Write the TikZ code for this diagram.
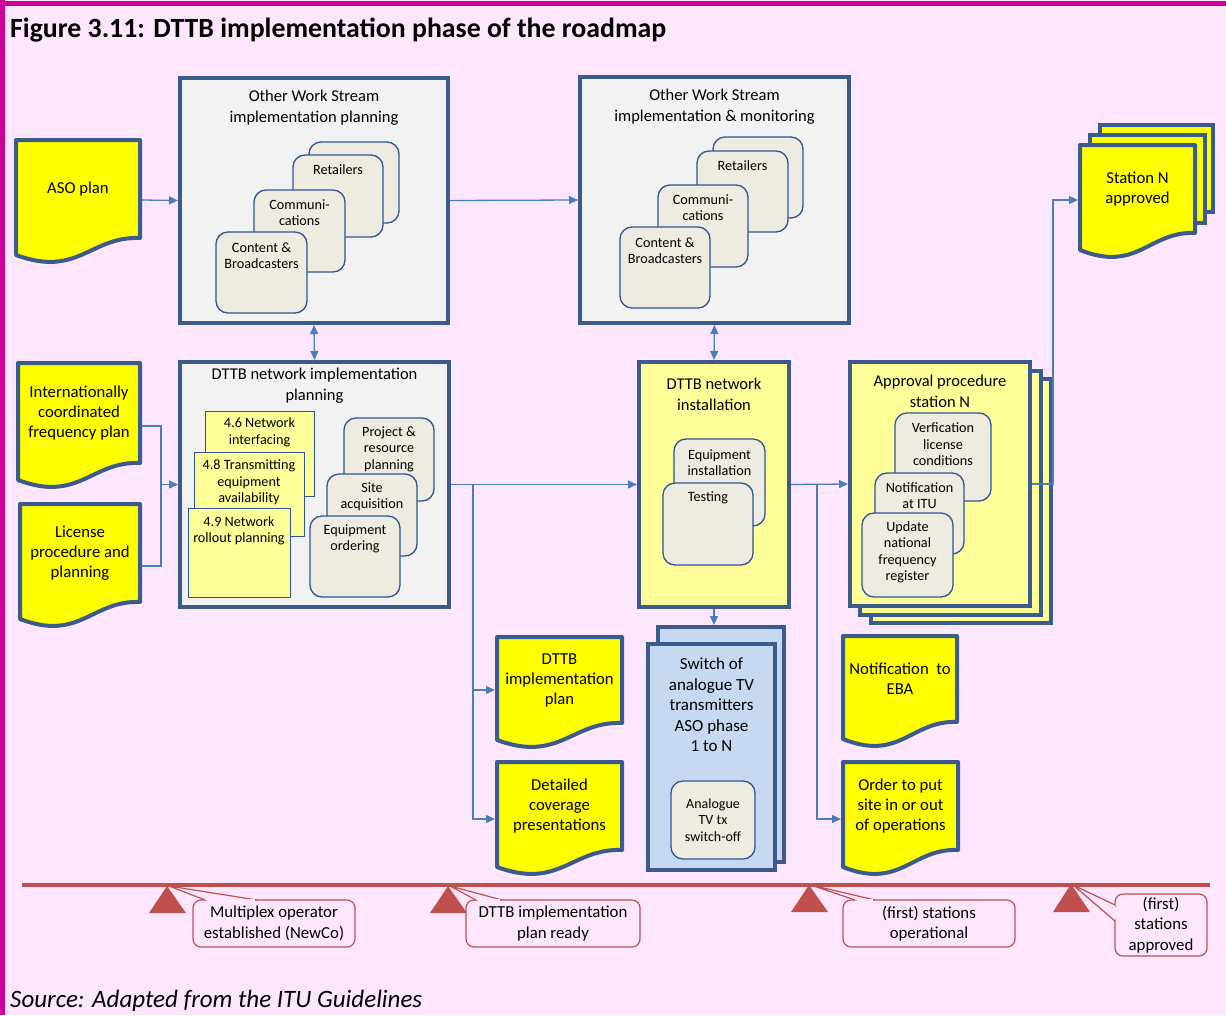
\documentclass[tikz,border=0pt]{standalone}
\usepackage{fontspec}
\setmainfont{Carlito}
\usetikzlibrary{arrows.meta,calc}

\definecolor{bgpink}{HTML}{FFE6FF}
\definecolor{framepink}{HTML}{CC0099}
\definecolor{edgeblue}{HTML}{3B5B8C}
\definecolor{inblue}{HTML}{2F5597}
\definecolor{panelgray}{HTML}{F2F2F2}
\definecolor{tanfill}{HTML}{EEECE1}
\definecolor{docyellow}{HTML}{FFFF00}
\definecolor{paleyellow}{HTML}{FFFF99}
\definecolor{paleblue}{HTML}{C6D9F1}
\definecolor{linkblue}{HTML}{4A7EBB}
\definecolor{milered}{HTML}{C0504D}

\newcommand{\fs}[2]{\fontsize{#1}{#2}\selectfont}

% rectangle-like node given by its corners: style, name, x1, y1, x2, y2
\newcommand{\boxat}[6]{%
  \node[#1, minimum width={(#5-#3)*1pt}, minimum height={(#6-#4)*1pt}]
    (#2) at ({(#3+#5)/2},{(#4+#6)/2}) {};}

% document shape with a wavy lower edge; #5 is the bottom of the right side
\newcommand{\docat}[6]{%
  \draw[docline] (#2,#3) -- (#4,#3) -- (#4,#5)
    .. controls ({#4-0.4*(#4-#2)},{#5-2}) and ({#2+0.5*(#4-#2)},{#5+40})
    .. (#2,{#5+17}) -- cycle;
  \node[doctext, minimum width={(#4-#2)*1pt}, minimum height={(#5-#3)*1pt}]
    (#1) at ({(#2+#4)/2},{(#3+#5)/2}) {#6};}

\tikzset{
  panel/.style={draw=edgeblue, line width=4pt, fill=panelgray},
  installbox/.style={draw=edgeblue, line width=4pt, fill=paleyellow},
  switchbox/.style={draw=edgeblue, line width=4pt, fill=paleblue},
  docline/.style={draw=edgeblue, line width=4pt, fill=docyellow, line join=round},
  docrect/.style={draw=edgeblue, line width=4pt, fill=docyellow},
  doctext/.style={align=center, font={\fs{16.7}{20}}, inner sep=0pt, outer sep=2pt},
  stream/.style={draw=inblue, line width=1.3pt, fill=tanfill, rounded corners=12pt},
  topic/.style={draw=inblue, line width=1pt, fill=paleyellow},
  boxtitle/.style={align=center, font={\fs{16.5}{21}}, inner sep=0pt},
  smalltext/.style={align=center, font={\fs{14.2}{16.5}}, inner sep=0pt},
  link/.style={draw=linkblue, line width=1.3pt},
  arrow/.style={link, -{Triangle[length=9pt,width=8pt]}},
  twoway/.style={link, {Triangle[length=9pt,width=8pt]}-{Triangle[length=9pt,width=8pt]}},
  callout/.style={draw=milered, line width=1.2pt, fill=bgpink, rounded corners=8pt},
  calltext/.style={align=center, font={\fs{16.8}{20.5}}, inner sep=0pt},
  wedge/.style={fill=bgpink, draw=milered, line width=1.2pt, line join=round},
}

\begin{document}
\begin{tikzpicture}[x=1pt,y=-1pt]
\useasboundingbox (0,0) rectangle (1226,1015);
\fill[bgpink] (0,0) rectangle (1226,1015);
\fill[framepink] (0,0.5) rectangle (1226,6);
\fill[framepink] (0,0) rectangle (5,1015);

\node[anchor=base west, font={\fs{27.8}{32}\bfseries}, inner sep=0pt] (title) at (10,37)
  {Figure 3.11: DTTB implementation phase of the roadmap};
\node[anchor=base west, font={\fs{25}{29}\itshape}, inner sep=0pt] (source) at (10,1007)
  {Source: Adapted from the ITU Guidelines};

% ---- other work streams: planning
\boxat{panel}{wsplan}{180}{78}{448}{323}
\node[boxtitle] (wsplan-t) at ($(wsplan.north)+(0,32)$) {Other Work Stream\\implementation planning};
\boxat{stream}{wsp-back}{309}{142}{399}{223}
\boxat{stream}{wsp-ret}{293}{155}{383}{237}
\node[smalltext] (wsp-ret-t) at ($(wsp-ret.north)+(0,15.5)$) {Retailers};
\boxat{stream}{wsp-com}{254}{190}{345}{272}
\node[smalltext] (wsp-com-t) at ($(wsp-com.north)+(0,23.5)$) {Communi-\\cations};
\boxat{stream}{wsp-con}{216}{232}{307}{313}
\node[smalltext] (wsp-con-t) at ($(wsp-con.north)+(0,24.5)$) {Content \&\\Broadcasters};

% ---- other work streams: implementation & monitoring
\boxat{panel}{wsmon}{580}{77}{849}{323}
\node[boxtitle] (wsmon-t) at ($(wsmon.north)+(0,32)$) {Other Work Stream\\implementation \& monitoring};
\boxat{stream}{wsm-back}{713}{137}{803}{218}
\boxat{stream}{wsm-ret}{697}{151}{788}{232}
\node[smalltext] (wsm-ret-t) at ($(wsm-ret.north)+(0,15.5)$) {Retailers};
\boxat{stream}{wsm-com}{658}{185}{748}{267}
\node[smalltext] (wsm-com-t) at ($(wsm-com.north)+(0,23.5)$) {Communi-\\cations};
\boxat{stream}{wsm-con}{620}{227}{710}{308}
\node[smalltext] (wsm-con-t) at ($(wsm-con.north)+(0,24.5)$) {Content \&\\Broadcasters};

% ---- network implementation planning
\boxat{panel}{netplan}{180}{362}{449}{607}
\node[boxtitle] (netplan-t) at ($(netplan.north)+(0,26)$) {DTTB network implementation\\planning};
\boxat{topic}{np-46}{205}{411}{314}{496}
\node[smalltext] (np-46-t) at ($(np-46.north)+(0,22)$) {4.6 Network\\interfacing};
\boxat{topic}{np-48}{194}{452}{304}{536}
\node[smalltext] (np-48-t) at ($(np-48.north)+(0,31)$) {4.8 Transmitting\\equipment\\availability};
\boxat{topic}{np-49}{188}{508}{290}{597}
\node[smalltext] (np-49-t) at ($(np-49.north)+(0,23.5)$) {4.9 Network\\rollout planning};
\boxat{stream}{np-proj}{344}{418}{434}{501}
\node[smalltext] (np-proj-t) at ($(np-proj.north)+(0,31.5)$) {Project \&\\resource\\planning};
\boxat{stream}{np-site}{327}{474}{417}{556}
\node[smalltext] (np-site-t) at ($(np-site.north)+(0,23.5)$) {Site\\acquisition};
\boxat{stream}{np-eq}{310}{516}{400}{597}
\node[smalltext] (np-eq-t) at ($(np-eq.north)+(0,23.5)$) {Equipment\\ordering};

% ---- network installation
\boxat{installbox}{install}{639}{362}{789}{607}
\node[boxtitle] (install-t) at ($(install.north)+(0,34)$) {DTTB network\\installation};
\boxat{stream}{in-eq}{674}{439}{765}{526}
\node[smalltext] (in-eq-t) at ($(in-eq.north)+(0,24.5)$) {Equipment\\installation};
\boxat{stream}{in-test}{663}{483}{753}{565}
\node[smalltext] (in-test-t) at ($(in-test.north)+(0,15.5)$) {Testing};

% ---- approval procedure (stack of three)
\boxat{installbox}{approval3}{871}{379}{1051}{623}
\boxat{installbox}{approval2}{860}{371}{1041}{615}
\boxat{installbox}{approval}{850}{362}{1030}{606}
\node[boxtitle] (approval-t) at ($(approval.north)+(0,31.5)$) {Approval procedure\\station N};
\boxat{stream}{ap-ver}{895}{413}{991}{501}
\node[smalltext] (ap-ver-t) at ($(ap-ver.north)+(0,32)$) {Verfication\\license\\conditions};
\boxat{stream}{ap-itu}{875}{473}{964}{554}
\node[smalltext] (ap-itu-t) at ($(ap-itu.north)+(0,23.5)$) {Notification\\at ITU};
\boxat{stream}{ap-upd}{862}{513}{953}{597}
\node[smalltext] (ap-upd-t) at ($(ap-upd.north)+(0,40)$) {Update\\national\\frequency\\register};

% ---- analogue switch-off (stack of two)
\boxat{switchbox}{switch2}{658}{627}{784}{862}
\boxat{switchbox}{switch}{648}{644}{775}{870}
\node[align=center, font={\fs{17}{20.5}}, inner sep=0pt] (switch-t) at ($(switch.north)+(0,63)$)
  {Switch of\\analogue TV\\transmitters\\ASO phase\\1 to N};
\boxat{stream}{sw-off}{671}{781}{755}{859}
\node[align=center, font={\fs{14}{16.5}}, inner sep=0pt] (sw-off-t) at (sw-off) {Analogue\\TV tx\\switch-off};

% ---- documents
\docat{aso}{16}{140}{140}{238}{ASO plan}
\docat{freq}{18}{363}{140}{463}{Internationally\\coordinated\\frequency plan}
\docat{lic}{20}{504}{140}{602}{License\\procedure and\\planning}
\docat{implan}{497}{637}{622}{723}{DTTB\\implementation\\plan}
\docat{cover}{497}{762}{622}{850}{Detailed\\coverage\\presentations}
\docat{eba}{843}{636}{957}{722}{Notification~ to\\EBA}
\docat{order}{843}{762}{958}{850}{Order to put\\site in or out\\of operations}
\boxat{docrect}{stn3}{1100}{125}{1213}{212}
\boxat{docrect}{stn2}{1090}{135}{1205}{223}
\docat{stn}{1080}{145}{1195}{233}{Station N\\approved}

% ---- connectors
\draw[arrow] ($(aso.east)+(0,11)$) -- (wsplan.west);
\draw[arrow] (wsplan.east) -- (wsmon.west);
\draw[twoway] (wsplan.south) -- (netplan.north);
\draw[twoway] (wsmon.south) -- (install.north);

\coordinate (merge) at (161,484.5);
\draw[link] ($(freq.east)+(0,13)$) -| (merge);
\draw[link] ($(lic.east)+(0,13)$) -| (merge);
\draw[arrow] (merge) -- (netplan.west);

\draw[arrow] (netplan.east) -- (install.west);
\coordinate (fork1) at (473,484.5);
\draw[arrow] (fork1) |- ($(implan.west)+(0,10)$);
\draw[arrow] (fork1) |- ($(cover.west)+(0,13)$);

\draw[arrow] (install.east) -- (approval.west);
\coordinate (fork2) at (817,484);
\draw[arrow] (fork2) |- ($(order.west)+(0,13)$);
\draw[arrow] (approval.east) -| ($(stn.west)+(-25,11)$) -- ($(stn.west)+(0,11)$);
\draw[arrow] (install.south) -- (install.south |- switch2.north);

% ---- milestone time line
\draw[milered, line width=4pt] (22,885) -- (1210,885);
\fill[milered] (167,886) -- (186,913) -- (149,913) -- cycle;
\fill[milered] (448,886) -- (467,913) -- (430,913) -- cycle;
\fill[milered] (809,885) -- (828,912) -- (791,912) -- cycle;
\fill[milered] (1071,884) -- (1090,912) -- (1053,912) -- cycle;

\boxat{callout}{m1}{193}{900}{355}{947}
\filldraw[wedge] (205,900) -- (169,886) -- (257,900);
\draw[bgpink, line width=2pt] (207,900) -- (255,900);
\node[calltext] (m1-t) at (m1) {Multiplex operator\\established (NewCo)};

\boxat{callout}{m2}{466}{900}{640}{947}
\filldraw[wedge] (476,900) -- (450,886) -- (502,900);
\draw[bgpink, line width=2pt] (478,900) -- (500,900);
\node[calltext] (m2-t) at (m2) {DTTB implementation\\plan ready};

\boxat{callout}{m3}{843}{900}{1015}{947}
\filldraw[wedge] (855,900) -- (811,885) -- (875,900);
\draw[bgpink, line width=2pt] (857,900) -- (873,900);
\node[calltext] (m3-t) at (m3) {(first) stations\\operational};

\boxat{callout}{m4}{1115}{894}{1207}{956}
\filldraw[wedge] (1115,905) -- (1073,885) -- (1115,921);
\draw[bgpink, line width=2pt] (1115,907) -- (1115,919);
\node[calltext] (m4-t) at (m4) {(first)\\stations\\approved};
\end{tikzpicture}
\end{document}
